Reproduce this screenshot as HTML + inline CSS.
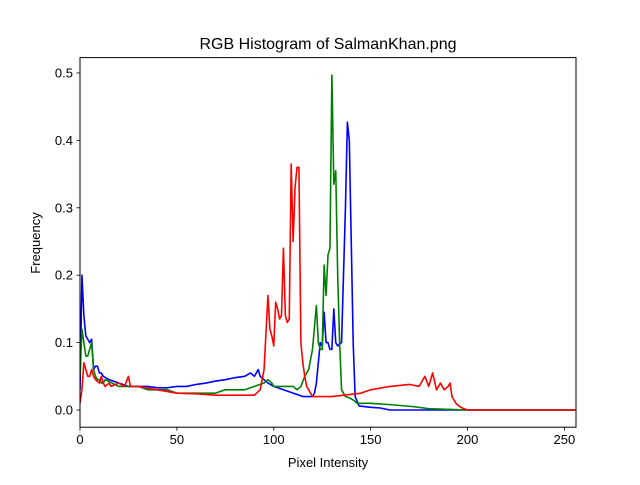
<!DOCTYPE html>
<html><head><meta charset="utf-8"><style>
body{margin:0;background:#fff;}
svg text{font-family:"Liberation Sans","DejaVu Sans",sans-serif;fill:#000;}
</style></head><body>
<svg id="chart" width="640" height="480" xmlns="http://www.w3.org/2000/svg">
<rect width="640" height="480" fill="#fff"/>
<text x="328" y="49" font-size="16" text-anchor="middle">RGB Histogram of SalmanKhan.png</text>
<g id="plot"></g>
<rect x="80" y="57.6" width="496" height="369.6" fill="none" stroke="#000" stroke-width="1"/>
<text x="328" y="467" font-size="13" text-anchor="middle">Pixel Intensity</text>
<text x="0" y="0" font-size="13" text-anchor="middle" transform="translate(40,243) rotate(-90)">Frequency</text>
</svg>
<script>
const xTicks=[0,50,100,150,200,250];
const yTicks=[0.0,0.1,0.2,0.3,0.4,0.5];
const yTickLabels=["0.0","0.1","0.2","0.3","0.4","0.5"];
const blueX=[0,1,2,3,4,5,6,7,8,9,10,11,12,15,20,25,30,35,40,45,50,55,60,65,70,75,80,85,88,90,92,93,95,97,100,105,110,115,120,121,122,123,124,125,126,127,128,129,130,131,132,133,134,135,136,137,138,139,140,141,142,144,150,155,160,200,256];
const blueV=[0.03,0.2,0.14,0.11,0.105,0.1,0.105,0.06,0.065,0.065,0.055,0.055,0.05,0.045,0.04,0.035,0.035,0.035,0.033,0.033,0.035,0.035,0.038,0.04,0.043,0.045,0.048,0.05,0.055,0.05,0.06,0.05,0.045,0.04,0.035,0.03,0.025,0.02,0.02,0.025,0.04,0.07,0.1,0.095,0.145,0.1,0.1,0.09,0.09,0.15,0.1,0.095,0.098,0.1,0.2,0.3,0.427,0.4,0.25,0.1,0.02,0.006,0.004,0.003,0,0,0];
const greenX=[0,1,2,3,4,5,6,7,8,9,10,11,12,13,20,30,35,45,50,60,70,75,85,90,95,97,99,100,110,112,114,116,118,120,122,123,124,125,126,127,128,129,130,131,132,133,134,135,137,139,141,143,150,160,172,180,200,256];
const greenV=[0.05,0.12,0.1,0.08,0.08,0.09,0.1,0.06,0.05,0.045,0.045,0.04,0.04,0.045,0.035,0.035,0.03,0.03,0.025,0.025,0.025,0.03,0.03,0.035,0.04,0.045,0.04,0.035,0.035,0.03,0.035,0.05,0.06,0.09,0.155,0.1,0.09,0.09,0.215,0.17,0.23,0.24,0.497,0.335,0.355,0.2,0.1,0.03,0.02,0.018,0.015,0.01,0.01,0.008,0.005,0.002,0,0];
const redX=[0,1,2,3,4,5,6,7,8,10,11,12,13,15,16,20,23,25,26,30,40,50,60,70,80,90,93,95,97,98,99,100,101,102,103,104,105,106,107,108,109,110,111,112,113,114,115,116,117,118,120,130,145,150,160,170,175,178,180,182,184,186,188,190,191,192,194,196,198,200,256];
const redV=[0.01,0.03,0.07,0.06,0.05,0.05,0.06,0.05,0.045,0.04,0.05,0.04,0.035,0.04,0.035,0.04,0.035,0.05,0.035,0.035,0.03,0.025,0.024,0.022,0.022,0.022,0.03,0.06,0.17,0.12,0.11,0.095,0.16,0.15,0.135,0.14,0.24,0.14,0.13,0.135,0.365,0.25,0.33,0.36,0.36,0.1,0.07,0.05,0.035,0.03,0.02,0.02,0.025,0.03,0.035,0.038,0.035,0.05,0.035,0.055,0.03,0.04,0.03,0.035,0.04,0.02,0.01,0.005,0.002,0,0];
const L=80,R=576,T=57.6,B=427.2,xmin=0,xmax=256,ymin=-0.0255,ymax=0.5228;
const sx=v=>L+(v-xmin)/(xmax-xmin)*(R-L);
const sy=v=>B-(v-ymin)/(ymax-ymin)*(B-T);
const NS="http://www.w3.org/2000/svg";
const svg=document.getElementById('chart');
const plot=document.getElementById('plot');
function mk(tag,attrs,parent){const e=document.createElementNS(NS,tag);for(const k in attrs)e.setAttribute(k,attrs[k]);parent.appendChild(e);return e;}
xTicks.forEach((t,i)=>{
  const g=mk('g',{},svg);
  
  
  mk('line',{x1:sx(t),x2:sx(t),y1:B,y2:B+3.5,stroke:'#000','stroke-width':0.8},g);
  const tx=mk('text',{x:sx(t),y:B+17,'font-size':13,'text-anchor':'middle'},g);
  tx.textContent=String(t);
});
yTicks.forEach((t,i)=>{
  const g=mk('g',{},svg);
  
  
  mk('line',{x1:L-3.5,x2:L,y1:sy(t),y2:sy(t),stroke:'#000','stroke-width':0.8},g);
  const tx=mk('text',{x:L-7,y:sy(t)+4.5,'font-size':13,'text-anchor':'end'},g);
  tx.textContent=yTickLabels[i];
});
function line(xs,vs,color,name){
  const d=xs.map((x,i)=>(i?'L':'M')+sx(x).toFixed(2)+','+sy(vs[i]).toFixed(2)).join('');
  const p=mk('path',{d:d,fill:'none',stroke:color,'stroke-width':1.6,'stroke-linejoin':'round'},plot);
  
  
}
const cp=mk('clipPath',{id:'clip'},svg);mk('rect',{x:L,y:T,width:R-L,height:B-T},cp);
plot.setAttribute('clip-path','url(#clip)');
line(blueX,blueV,'#0000ff','blue-channel-line');
line(greenX,greenV,'#008000','green-channel-line');
line(redX,redV,'#ff0000','red-channel-line');
</script>
</body></html>
